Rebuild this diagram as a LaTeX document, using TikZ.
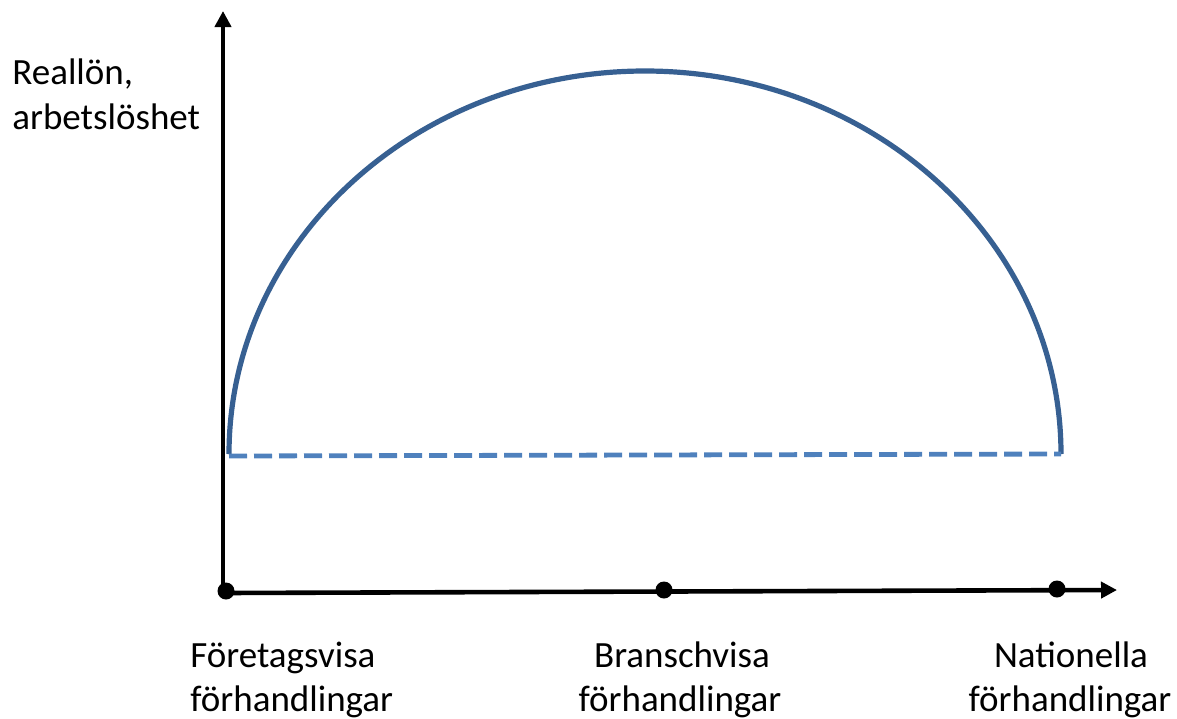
\documentclass[tikz,border=0pt]{standalone}
\usepackage{fontspec}
\setmainfont{Carlito}
\usetikzlibrary{arrows.meta}
\definecolor{arcblue}{HTML}{376092}
\definecolor{dashblue}{HTML}{4F81BD}
\tikzset{
  axisline/.style={line width=2.3pt, -{Triangle[length=8pt,width=8pt]}},
  dot/.style={circle, fill=black, inner sep=0pt, minimum size=8.5pt},
  lbl/.style={inner sep=0pt, font=\fontsize{18.5}{22}\selectfont},
  curve/.style={arcblue, line width=2.6pt},
  level/.style={dashblue, line width=2.4pt, dash pattern=on 9pt off 3.5pt}
}
\begin{document}
\begin{tikzpicture}[x=0.5pt,y=-0.5pt]
\useasboundingbox (0,0) rectangle (1177,718);
\coordinate (O) at (223,593);
\coordinate (ytop) at (223,11);
\coordinate (xend) at (1117,590);
\draw[axisline] (O) -- (ytop);
\draw[axisline] (O) -- (xend);
\node[dot] (d1) at (226,591) {};
\node[dot] (d2) at (664,590) {};
\node[dot] (d3) at (1057,589) {};
% arc and dashed level
\coordinate (aL) at (229,454);
\coordinate (aR) at (1061,454);
\draw[curve] (aL) arc[start angle=180, end angle=360, x radius=416, y radius=383];
\draw[level] (229,456) -- (1061,454);
% labels
\node[lbl, anchor=base west] (ya) at (12,84) {Reallön,};
\node[lbl, anchor=base west] (yb) at (12,129) {arbetslöshet};
\node[lbl, anchor=base west] (l1a) at (190,667) {Företagsvisa};
\node[lbl, anchor=base west] (l1b) at (190,711) {förhandlingar};
\node[lbl, anchor=base] (l2a) at (682,667) {Branschvisa};
\node[lbl, anchor=base] (l2b) at (680,711) {förhandlingar};
\node[lbl, anchor=base] (l3a) at (1071,667) {Nationella};
\node[lbl, anchor=base] (l3b) at (1070,711) {förhandlingar};
\end{tikzpicture}
\end{document}
